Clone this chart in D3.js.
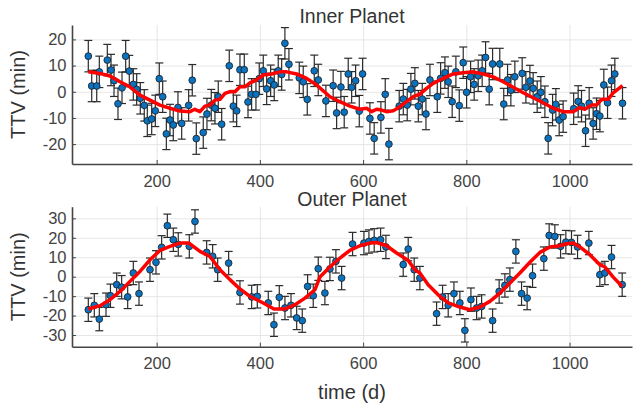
<!DOCTYPE html>
<html>
<head>
<meta charset="utf-8">
<script src="https://cdn.jsdelivr.net/npm/d3@7"></script>
<style>
    body { margin: 0; background: #fff; }
    text { font-family: "Liberation Sans", Arial, sans-serif; }
</style>
</head>
<body>
<div id="chart-container"></div>
<script>
const innerTime = [67.6, 74.2, 83.9, 88.9, 104.4, 111.6, 117.4, 125.1, 132.9, 140, 147, 154.8, 161.3, 168.3, 176, 181.9, 190.4, 197.4, 205.1, 211.7,
    218.8, 225.9, 232.2, 241.3, 248.5, 262, 269, 276.8, 290.3, 297.5, 305.8, 313, 319.4, 326, 340.7, 348.5, 355, 361.4, 369.8, 377,
    384, 392.4, 398.8, 406.6, 413.2, 420.9, 427.8, 435.6, 442.2, 448.5, 456.3, 476.3, 484, 491.8, 505.4, 513.1, 527.9, 542, 548.7, 557,
    563.4, 571.2, 577.8, 585.5, 592.6, 599, 613.2, 621.5, 634.5, 642.9, 650, 670, 677.9, 685.5, 692.6, 700.3, 707, 714.6, 721.8, 729.5,
    743.7, 750.2, 758.5, 764.9, 772.6, 779.8, 786.3, 794, 800.5, 808.3, 815.2, 823, 830.7, 837.3, 844.3, 850.9, 864.8, 872.5, 879.9, 886.3,
    894, 908.2, 915.4, 923.2, 929.5, 937.3, 944.4, 952.2, 958.6, 967.1, 973.5, 979.9, 987.6, 1008, 1016.7, 1023.2, 1031, 1038, 1045.7, 1052.3,
    1058.7, 1066.4, 1073.6, 1081.3, 1087.7, 1102.6];
const innerTTV = [13.6, 2.2, 2.2, 7.6, 12.1, 8.3, 4.2, -4.6, 1.5, 13.6, 7.9, 2.8, 0.9, -2.5, -5.2, -11.1, -10.4, -7.3, 5.0, -1.9,
    -16.1, -10.8, -12.7, -6.0, -12.1, -5.2, 4.4, -17.9, -15.6, -8.5, -5.1, -6.3, -1.9, -12.4, 9.9, -5.5, -7.3, 8.4, 8.4, -3.9,
    -1.0, -1.0, 5.0, 8.0, 1.1, 4.2, 2.6, 8.0, 6.6, 18.5, 10.5, 5.3, 3.8, -2.9, 8.0, 4.5, -3.5, 2.3, -8.1, 1.8,
    -7.8, 6.8, 1.7, 4.2, -7.4, 6.8, -10.2, -17.8, -9.8, -1.0, -20, -5.5, -2.8, -5.1, 1.0, 3.2, -5.5, -2.8, -8.5, 4.5,
    -1.9, 5.1, 7.3, 3.8, -3.8, 7.6, -5.3, 11.1, -0.2, 5.7, 2.8, 6.1, 8.0, 13.1, 1.0, 10.6, 10.6, -4.7, 4.5, 0.6,
    5.7, 7.0, 1.7, 4.1, 1.3, -1.9, -0.2, -3.8, -17.8, -7.0, -4.8, -10.8, -9.5, -6.5, -3.7, -5.5, -14.9, -4.4, -12.1, -8.4,
    -9.3, 2.6, -4.2, 4.2, 6.8, -4.4];

const outerTime = [67.6, 79.2, 88.9, 101.9, 110.5, 122.6, 132.2, 143.9, 154.8, 165.8, 187.1, 198.7, 209.7, 220.7, 232.3, 241.9, 263.3, 274.3, 296.9, 308.5,
    318.2, 339.5, 361.4, 384.1, 395, 416.3, 427.3, 437.6, 448.6, 460.3, 471.3, 482.1, 492.5, 503.4, 513.1, 526, 535.7, 547.3, 558.4, 579.6,
    601.6, 611.3, 621.5, 633.9, 644.2, 677.7, 687.4, 699, 710, 742.4, 754, 764.9, 776, 787.5, 797.2, 808.9, 819.9, 829.6, 850.9, 863.6,
    874.7, 884.4, 896, 907, 917.8, 928.3, 950.2, 960.5, 971.5, 982.6, 992.8, 1003.8, 1015.5, 1037.4, 1058.7, 1068.4, 1081.3, 1102];
const outerTTV = [-17.0, -14.7, -21.8, -14.4, -9.8, -4.1, -5.4, -10.4, 1.9, -8.7, 3.6, 7.4, 15.1, 26.2, 19.0, 16.6, 15.6, 28.4, 12.5, 10.5,
    3.6, 7.0, -8.1, -10.4, -10.1, -13.5, -24.7, -10.6, -16.1, -14.7, -21.2, -22.6, -5.0, -9.8, 4.1, -8.4, 4.0, 7.9, -0.7, 16.8,
    17.3, 18.1, 18.7, 19.0, 15.3, 6.2, 14.2, 3.6, -0.7, -19.0, -10.4, -14.7, -8.7, -13.5, -27.6, -11.8, -16.1, -15.3, -22.6, -7.6,
    -4.5, -1.5, 13.0, -8.7, -11.0, 0.5, 9.3, 21.2, 20.7, 15.6, 17.8, 17.6, 15.3, 17.3, 1.0, 1.9, 10.1, -4.1];

const ttvError = 6;

// fitted model curves
const innerModelTime = [67.6, 90, 109.6, 129, 148, 167.7, 187, 206.4, 225.8, 245.2, 264.6, 274, 283.9, 293.6, 303.3, 313, 322.7, 332.4, 342, 351.8,
    361.4, 371, 380.8, 393.7, 406.6, 422.8, 439, 451.9, 471.3, 490.6, 510, 535.7, 555, 574.4, 593.8, 606.7, 616.5, 626, 635.9, 645.5,
    658.3, 671.3, 684.3, 697.1, 710, 723, 735.8, 748.8, 761.7, 774.5, 794, 813.3, 832.7, 852, 871.4, 890.8, 910.2, 929.5, 948.9, 968.2,
    987.6, 1007, 1020, 1029.6, 1042.6, 1052.3, 1062, 1074.8, 1084.6, 1102.6];
const innerModel = [7.6, 7.0, 6.0, 3.8, 1.9, -1.3, -3.2, -5.1, -6.3, -7.4, -7.6, -6.7, -7.6, -5.5, -5.1, -3.2, -2.9, -0.6, 0, 0,
    1.9, 1.9, 3.4, 4.5, 6.4, 6.8, 7.6, 7.6, 6.8, 5.1, 2.6, -1.9, -3.8, -5.5, -6.7, -6.3, -7.6, -6.7, -7.0, -7.6,
    -7.3, -5.7, -3.8, -1.9, -0.9, 1.3, 3.2, 4.5, 5.7, 6.8, 7.3, 7.6, 6.8, 5.7, 3.8, 1.7, -0.4, -2.3, -4.2, -6.3,
    -7.6, -7.6, -6.0, -6.7, -5.1, -5.1, -2.9, -2.9, -0.4, 2.3];

const outerModelTime = [67.6, 90.3, 109.6, 129, 148.4, 167.7, 187.1, 206.5, 225.8, 245.2, 262.6, 283.9, 303.3, 322.7, 342, 361.4, 380.8, 406.6, 427.3, 448.6,
    468, 487.3, 506.7, 516.3, 535.7, 555.1, 574.4, 593.8, 613.2, 626.1, 645.5, 664.9, 687.4, 700.3, 710, 726.1, 745.5, 764.9, 787.5, 806.9,
    826.3, 845.7, 865.1, 884.4, 903.8, 923.2, 942.6, 962, 981.3, 994.2, 1007, 1020, 1039.4, 1058.7, 1068.4, 1084.6, 1102];
const outerModel = [-16.6, -14.9, -11.8, -7.6, -2.4, 2.7, 8.7, 13.5, 15.6, 17.3, 17.3, 13.0, 10.4, 3.6, -1.5, -6.3, -10.1, -13.5, -16.6, -16.6,
    -14.4, -11.0, -6.7, -0.2, 5.0, 9.6, 13.5, 15.9, 17.3, 17.6, 15.9, 12.2, 8.4, 3.6, 1.9, -4.1, -9.3, -13.5, -15.6, -17.0,
    -15.6, -12.7, -8.4, -3.2, 1.9, 7.4, 12.5, 15.3, 15.9, 17.0, 17.3, 15.3, 11.3, 6.2, 5.0, -0.2, -5.0];

const xTicks = [200, 400, 600, 800, 1000];
const innerYTicks = [-20, -10, 0, 10, 20];
const outerYTicks = [-30, -20, -10, 0, 10, 20, 30];

const chartWidth = 635;
const chartHeight = 409;
const plotLeft = 72;
const plotRight = 632;
const xDomain = [36, 1121];

const panels = [
    {title: "Inner Planet", time: innerTime, ttv: innerTTV, modelTime: innerModelTime, model: innerModel,
        yTicks: innerYTicks, yDomain: [-27.6, 25.5], top: 25, bottom: 164, titleY: 22.5},
    {title: "Outer Planet", time: outerTime, ttv: outerTTV, modelTime: outerModelTime, model: outerModel,
        yTicks: outerYTicks, yDomain: [-36, 36], top: 206.7, bottom: 346.7, titleY: 206}
];

const svg = d3.select("#chart-container").append("svg")
    .attr("width", chartWidth)
    .attr("height", chartHeight);

/**
 * Draw one panel: grid, axes, error bars, points and model line
 */
function drawPanel(panel) {
    const xScale = d3.scaleLinear().domain(xDomain).range([plotLeft, plotRight]);
    const yScale = d3.scaleLinear().domain(panel.yDomain).range([panel.bottom, panel.top]);
    const plotH = panel.bottom - panel.top;
    const g = svg.append("g");

    // grid
    g.append("g")
        .attr("transform", `translate(0, ${panel.bottom})`)
        .call(d3.axisBottom(xScale).tickValues(xTicks).tickSize(-plotH).tickFormat(""))
        .call(a => a.select(".domain").remove())
        .call(a => a.selectAll("line").attr("stroke", "#e6e6e6"));
    g.append("g")
        .attr("transform", `translate(${plotLeft}, 0)`)
        .call(d3.axisLeft(yScale).tickValues(panel.yTicks).tickSize(-(plotRight - plotLeft)).tickFormat(""))
        .call(a => a.select(".domain").remove())
        .call(a => a.selectAll("line").attr("stroke", "#e6e6e6"));

    // axes
    const xAxis = g.append("g")
        .attr("transform", `translate(0, ${panel.bottom})`)
        .call(d3.axisBottom(xScale).tickValues(xTicks).tickSizeInner(-4).tickSizeOuter(0).tickPadding(11).tickFormat(d => String(d)));
    const yAxis = g.append("g")
        .attr("transform", `translate(${plotLeft}, 0)`)
        .call(d3.axisLeft(yScale).tickValues(panel.yTicks).tickSizeInner(-4).tickSizeOuter(0).tickPadding(5.5).tickFormat(d => String(d)));
    [xAxis, yAxis].forEach(a => {
        a.select(".domain").attr("stroke", "#444").attr("stroke-width", 1.6);
        a.selectAll(".tick line").attr("stroke", "#444");
        a.selectAll("text").attr("fill", "#444").style("font-size", "16.5px");
    });

    const pts = panel.time.map((t, i) => ({t: t, v: panel.ttv[i]}));

    // error bars
    const bars = g.append("g").attr("stroke", "#2b2b2b").attr("stroke-width", 1.2);
    pts.forEach(d => {
        const x = xScale(d.t);
        const y0 = yScale(d.v - ttvError), y1 = yScale(d.v + ttvError);
        bars.append("line").attr("x1", x).attr("x2", x).attr("y1", y0).attr("y2", y1);
        bars.append("line").attr("x1", x - 4).attr("x2", x + 4).attr("y1", y0).attr("y2", y0);
        bars.append("line").attr("x1", x - 4).attr("x2", x + 4).attr("y1", y1).attr("y2", y1);
    });

    g.append("g").selectAll("circle")
        .data(pts)
        .enter()
        .append("circle")
        .attr("cx", d => xScale(d.t))
        .attr("cy", d => yScale(d.v))
        .attr("r", 3.4)
        .attr("fill", "#0b72c0")
        .attr("stroke", "#1a1a1a")
        .attr("stroke-width", 0.8);

    const line = d3.line()
        .x((d, i) => xScale(panel.modelTime[i]))
        .y(d => yScale(d));
    g.append("path")
        .datum(panel.model)
        .attr("d", line)
        .attr("fill", "none")
        .attr("stroke", "#ff0000")
        .attr("stroke-width", 3.5)
        .attr("stroke-linejoin", "round");

    g.append("text")
        .attr("x", (plotLeft + plotRight) / 2)
        .attr("y", panel.titleY)
        .attr("text-anchor", "middle")
        .attr("fill", "#333")
        .style("font-size", "19.5px")
        .text(panel.title);

    g.append("text")
        .attr("transform", `translate(25, ${(panel.top + panel.bottom) / 2}) rotate(-90)`)
        .attr("text-anchor", "middle")
        .attr("fill", "#333")
        .style("font-size", "20px")
        .text("TTV (min)");
}

panels.forEach(drawPanel);

svg.append("text")
    .attr("x", (plotLeft + plotRight) / 2)
    .attr("y", 399)
    .attr("text-anchor", "middle")
    .attr("fill", "#333")
    .style("font-size", "20px")
    .text("time (d)");
</script>
</body>
</html>
